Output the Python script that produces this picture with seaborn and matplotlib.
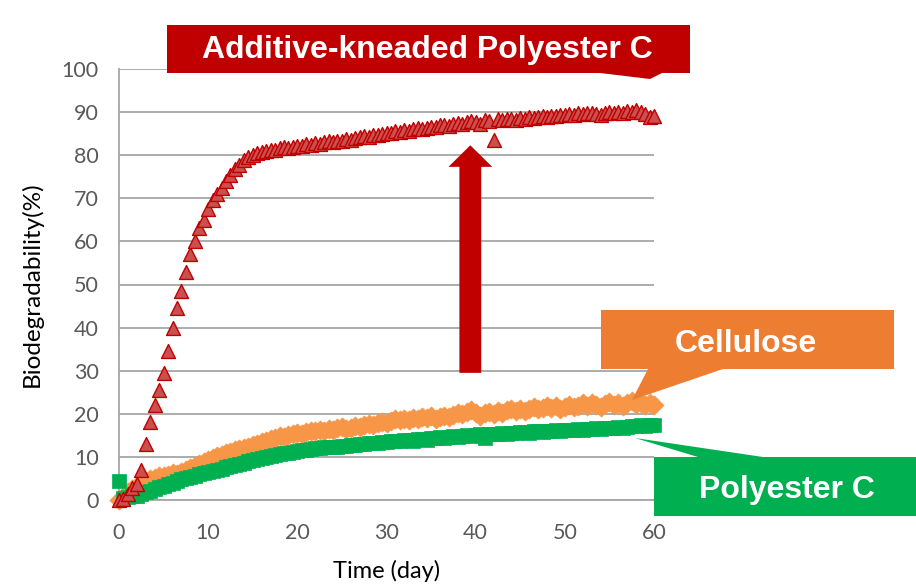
import matplotlib
matplotlib.use("Agg")
import matplotlib.pyplot as plt
import seaborn as sns
import numpy as np
import pandas as pd
from matplotlib.patches import Polygon, FancyArrow

# Sampling days (every half day over the 60-day test)
days = np.arange(0, 60.5, 0.5)

# Biodegradability (%) of the additive-kneaded polyester C
additive_polyester_c = [
    0.0, 0.2, 1.5, 2.8, 3.8, 7.0, 13.0, 18.0, 22.0, 25.5,
    29.5, 34.5, 40.0, 44.5, 48.5, 53.0, 57.0, 60.0, 63.0, 65.0,
    67.5, 69.5, 71.0, 72.5, 74.0, 75.5, 76.8, 77.8, 78.8, 79.5,
    80.0, 80.4, 80.8, 81.0, 81.3, 81.2, 81.6, 81.8, 81.7, 82.0,
    82.2, 82.1, 82.5, 82.4, 82.8, 82.7, 83.0, 83.2, 83.1, 83.4,
    83.3, 83.7, 83.6, 84.0, 84.2, 84.5, 84.3, 84.8, 84.6, 85.0,
    85.2, 85.1, 85.5, 85.4, 85.8, 85.7, 86.0, 86.2, 86.1, 86.4,
    86.6, 86.5, 86.9, 87.0, 86.8, 87.3, 87.5, 87.2, 87.7, 88.0,
    87.8, 87.2, 88.2, 88.0, 83.5, 88.3, 88.1, 88.5, 88.4, 88.2,
    88.6, 88.5, 88.8, 88.7, 88.9, 89.1, 88.8, 89.2, 89.0, 89.4,
    89.3, 89.6, 89.4, 89.8, 89.5, 89.7, 89.9, 89.6, 89.3, 89.8,
    90.0, 89.7, 90.1, 89.9, 90.3, 90.0, 90.4, 90.1, 89.6, 88.8,
    89.0,
]

# Biodegradability (%) of the cellulose reference
cellulose = [
    0.0, 0.8, 1.8, 2.5, 3.2, 3.8, 4.3, 4.8, 5.2, 5.5,
    5.6, 5.9, 6.2, 6.0, 6.5, 7.0, 7.4, 7.9, 8.4, 8.9,
    9.3, 9.8, 10.1, 10.5, 10.9, 11.2, 11.5, 11.8, 12.0, 12.4,
    12.8, 13.0, 13.5, 13.8, 14.1, 14.4, 14.8, 14.6, 15.0, 15.3,
    15.6, 15.4, 15.8, 16.1, 15.9, 16.3, 16.1, 16.5, 16.2, 16.6,
    16.9, 16.5, 16.8, 17.2, 16.9, 17.3, 17.7, 17.4, 17.8, 18.2,
    17.9, 18.4, 18.8, 18.5, 18.9, 18.6, 19.1, 18.8, 19.2, 19.0,
    19.4, 18.9, 19.3, 19.6, 19.2, 19.8, 20.2, 19.9, 20.4, 20.8,
    20.2, 19.6, 20.1, 20.5, 20.0, 20.6, 20.3, 20.8, 21.2, 20.7,
    21.0, 20.6, 21.1, 21.5, 21.0, 21.4, 21.8, 21.3, 21.7, 21.2,
    21.6, 22.0, 21.5, 21.9, 22.4, 21.8, 22.6, 22.0, 21.6, 22.3,
    22.8, 22.1, 22.6, 21.9, 22.4, 22.9, 22.2, 22.6, 22.0, 22.5,
    22.1,
]

# Biodegradability (%) of polyester C without additive
polyester_c = [
    4.5, 0.5, 0.6, 1.0, 1.0, 1.4, 1.8, 2.2, 2.6, 3.0,
    3.3, 3.6, 4.0, 4.4, 4.8, 5.0, 5.4, 5.6, 6.0, 6.2,
    6.6, 6.8, 7.0, 7.3, 7.6, 7.8, 8.1, 8.4, 8.7, 9.0,
    9.2, 9.4, 9.8, 10.0, 10.2, 10.4, 10.6, 10.8, 11.0, 11.2,
    11.4, 11.5, 11.7, 11.8, 12.0, 12.0, 12.2, 12.3, 12.4, 12.4,
    12.6, 12.6, 12.8, 12.7, 13.0, 13.0, 13.2, 13.2, 13.3, 13.5,
    13.4, 13.6, 13.8, 13.6, 13.9, 14.0, 13.8, 14.1, 14.2, 14.0,
    14.4, 14.3, 14.6, 14.4, 14.7, 14.8, 14.6, 14.9, 15.0, 14.8,
    15.1, 15.2, 14.3, 15.2, 15.4, 15.3, 15.5, 15.4, 15.6, 15.5,
    15.7, 15.8, 15.6, 15.9, 16.0, 15.8, 16.1, 16.0, 16.2, 16.1,
    16.2, 16.3, 16.2, 16.4, 16.3, 16.5, 16.4, 16.6, 16.5, 16.7,
    16.8, 16.6, 16.9, 16.8, 17.0, 17.2, 17.1, 17.3, 17.2, 17.4,
    17.5,
]

x_ticks = [0, 10, 20, 30, 40, 50, 60]
y_ticks = [0, 10, 20, 30, 40, 50, 60, 70, 80, 90, 100]

label_additive = "Additive-kneaded Polyester C"
label_cellulose = "Cellulose"
label_polyester = "Polyester C"
x_title = "Time (day)"
y_title = "Biodegradability(%)"

df = pd.DataFrame({
    "day": days,
    "additive": additive_polyester_c,
    "cellulose": cellulose,
    "polyester": polyester_c,
})

sns.set_theme(style="white")
plt.rcParams["font.family"] = ["Lato", "DejaVu Sans"]

W, H = 916, 585
fig = plt.figure(figsize=(W / 100, H / 100), dpi=100)
ax = fig.add_axes([119 / W, 1 - 500 / H, 535 / W, 431 / H])

GRID = "#a6a6a6"
TXT = "#595959"

sns.scatterplot(data=df, x="day", y="cellulose", ax=ax, marker="D", s=95,
                color="#f79646", edgecolor="#f79646", linewidth=0.5,
                clip_on=False, zorder=3)
sns.scatterplot(data=df, x="day", y="polyester", ax=ax, marker="s", s=115,
                color="#00b050", edgecolor="#00b050", linewidth=0.5,
                clip_on=False, zorder=4)
sns.scatterplot(data=df, x="day", y="additive", ax=ax, marker="^", s=100,
                color="#c9504e", edgecolor="#c00000", linewidth=1.0,
                clip_on=False, zorder=5)

ax.set_xlim(0, 60)
ax.set_ylim(0, 100)
ax.set_xticks(x_ticks)
ax.set_yticks(y_ticks)
ax.yaxis.grid(True, color=GRID, linewidth=1.3)
ax.xaxis.grid(False)
ax.set_axisbelow(True)
for side in ["top", "right"]:
    ax.spines[side].set_visible(False)
for side in ["left", "bottom"]:
    ax.spines[side].set_color(GRID)
    ax.spines[side].set_linewidth(1.3)
ax.tick_params(axis="both", which="major", direction="out", length=6.5,
               width=1.2, color=GRID, labelsize=15.5, labelcolor=TXT)
ax.tick_params(axis="x", pad=10)
ax.tick_params(axis="y", pad=8)
ax.set_xlabel(x_title, fontsize=17, color="#000000", labelpad=12)
ax.set_ylabel(y_title, fontsize=17.5, color="#000000", labelpad=14)

# Arrow highlighting the improvement from the additive
ax.add_patch(FancyArrow(39.4, 29.5, 0, 52.8, width=2.45, head_width=4.9,
                        head_length=5.0, length_includes_head=True,
                        color="#c00000", linewidth=0, zorder=6, clip_on=False))


def fp(pts):
    return [(x / W, 1 - y / H) for x, y in pts]


callouts = [
    (fp([(167, 25), (690, 25), (690, 73), (662, 73), (650, 79), (600, 73), (167, 73)]),
     "#c00000", label_additive, (427, 58)),
    (fp([(601, 310), (894, 310), (894, 369), (723, 369), (632, 400), (648, 369), (601, 369)]),
     "#ed7d31", label_cellulose, (746, 352)),
    (fp([(654, 457), (698, 457), (635, 438), (763, 457), (916, 457), (916, 516), (654, 516)]),
     "#00b050", label_polyester, (787, 498)),
]
for pts, col, text, (tx, ty) in callouts:
    fig.add_artist(Polygon(pts, closed=True, facecolor=col, edgecolor="none",
                           transform=fig.transFigure, zorder=10))
    fig.text(tx / W, 1 - ty / H, text, ha="center", va="baseline",
             fontsize=23, fontweight="bold", color="white",
             family=["Liberation Sans", "DejaVu Sans"], zorder=11)

fig.savefig("out.png", dpi=100)
